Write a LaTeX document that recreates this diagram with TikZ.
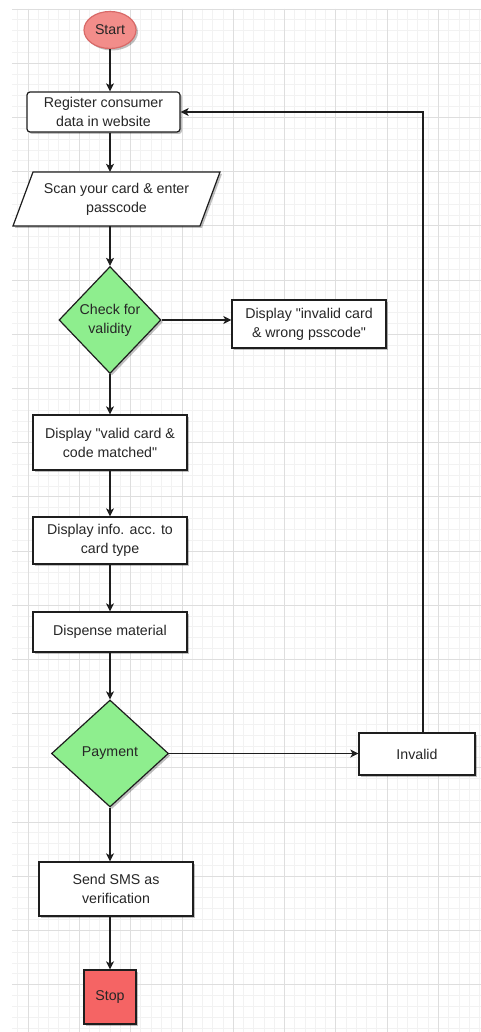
\documentclass[tikz,border=0pt]{standalone}
\usepackage{fontspec}
\setmainfont{Liberation Sans}[Ligatures=TeXOff]
\usetikzlibrary{shapes.geometric,arrows.meta,shadows}
\definecolor{txt}{HTML}{262626}
\definecolor{ln}{HTML}{1E1E1E}
\definecolor{startfill}{HTML}{F28D8A}
\definecolor{startline}{HTML}{D86A68}
\definecolor{stopfill}{HTML}{F56464}
\definecolor{greenfill}{HTML}{8EEE8E}
\definecolor{gridminor}{HTML}{F2F2F2}
\definecolor{gridmajor}{HTML}{DEDEDE}
\begin{document}
\begin{tikzpicture}[x=1pt,y=-1pt,
  font=\fontsize{14.2}{19}\selectfont,
  shad/.style={drop shadow={shadow xshift=2pt,shadow yshift=-2pt,opacity=0.25,fill=black}},
  box/.style={draw=ln,line width=1.2pt,fill=white,rectangle,align=center,text=txt,inner sep=0pt,shad},
  dia/.style={draw=ln,line width=1.2pt,fill=greenfill,diamond,align=center,text=txt,inner sep=0pt,shad},
  arr/.style={draw=ln,line width=1.2pt,-{Stealth[length=8pt,width=8pt,inset=2pt]}}
]
\useasboundingbox (0,0) rectangle (481,1032);
\fill[white] (0,0) rectangle (481,1032);
% grid
\begin{scope}
\clip (12,9) rectangle (481,1032);
\foreach \i in {-1,...,45} \draw[gridminor,line width=0.8pt] ({28+10.26*\i},9) -- ({28+10.26*\i},1032);
\foreach \i in {0,...,95} \draw[gridminor,line width=0.8pt] (12,{9+10.84*\i}) -- (481,{9+10.84*\i});
\foreach \i in {0,...,9} \draw[gridmajor,line width=0.8pt] ({28+51.3*\i},9) -- ({28+51.3*\i},1032);
\foreach \i in {0,...,19} \draw[gridmajor,line width=0.8pt] (12,{9+54.2*\i}) -- (481,{9+54.2*\i});
\end{scope}

% nodes
\node[ellipse,draw=startline,line width=1.2pt,fill=startfill,text=txt,minimum width=52pt,minimum height=37pt,inner sep=0pt,shad] (start) at (110,30) {Start};
\node[box,rounded corners=3pt,minimum width=153pt,minimum height=40pt] (reg) at (103.5,112) {Register consumer\\data in website};
\node[rectangle,minimum width=187pt,minimum height=54pt,inner sep=0pt] (scan) at (116.5,199) {};
\draw[ln,line width=1.2pt,fill=white,shad] (33,172) -- (220,172) -- (200,226) -- (13,226) -- cycle;
\node[align=center,text=txt] at (scan.center) {Scan your card \& enter\\passcode};
\node[dia,minimum width=102pt,minimum height=107pt] (ck) at (110,320) {Check for\\validity};
\node[box,minimum width=154pt,minimum height=48pt] (bad) at (309,324) {Display "invalid card\\\& wrong psscode"};
\node[box,minimum width=154pt,minimum height=55pt] (val) at (110,442.5) {Display "valid card \&\\code matched"};
\node[box,minimum width=154pt,minimum height=47pt] (info) at (110,540.5) {Display info. acc. to\\card type};
\node[box,minimum width=154pt,minimum height=40pt] (disp) at (110,632) {Dispense material};
\node[dia,minimum width=117pt,minimum height=107pt] (pay) at (110,753.5) {Payment};
\node[box,minimum width=116pt,minimum height=42pt] (inv) at (417,754) {Invalid};
\node[box,minimum width=154pt,minimum height=54pt] (sms) at (116,889) {Send SMS as\\verification};
\node[box,fill=stopfill,minimum width=52pt,minimum height=54pt] (stop) at (110,997) {Stop};

% connectors
\draw[arr] (start.south) -- (start.south |- reg.north);
\draw[arr] (reg.south -| start) -- (scan.north -| start);
\draw[arr] (scan.south -| start) -- (ck.north);
\draw[arr] (ck.east) -- (ck.east -| bad.west);
\draw[arr] (ck.south) -- (val.north);
\draw[arr] (val.south) -- (info.north);
\draw[arr] (info.south) -- (disp.north);
\draw[arr] (disp.south) -- (pay.north);
\draw[arr] (pay.east) -- (pay.east -| inv.west);
\draw[arr] ([xshift=6pt]inv.north) |- (reg.east);
\draw[arr] (pay.south) -- (pay.south |- sms.north);
\draw[arr] (sms.south -| stop) -- (stop.north);
\end{tikzpicture}
\end{document}
